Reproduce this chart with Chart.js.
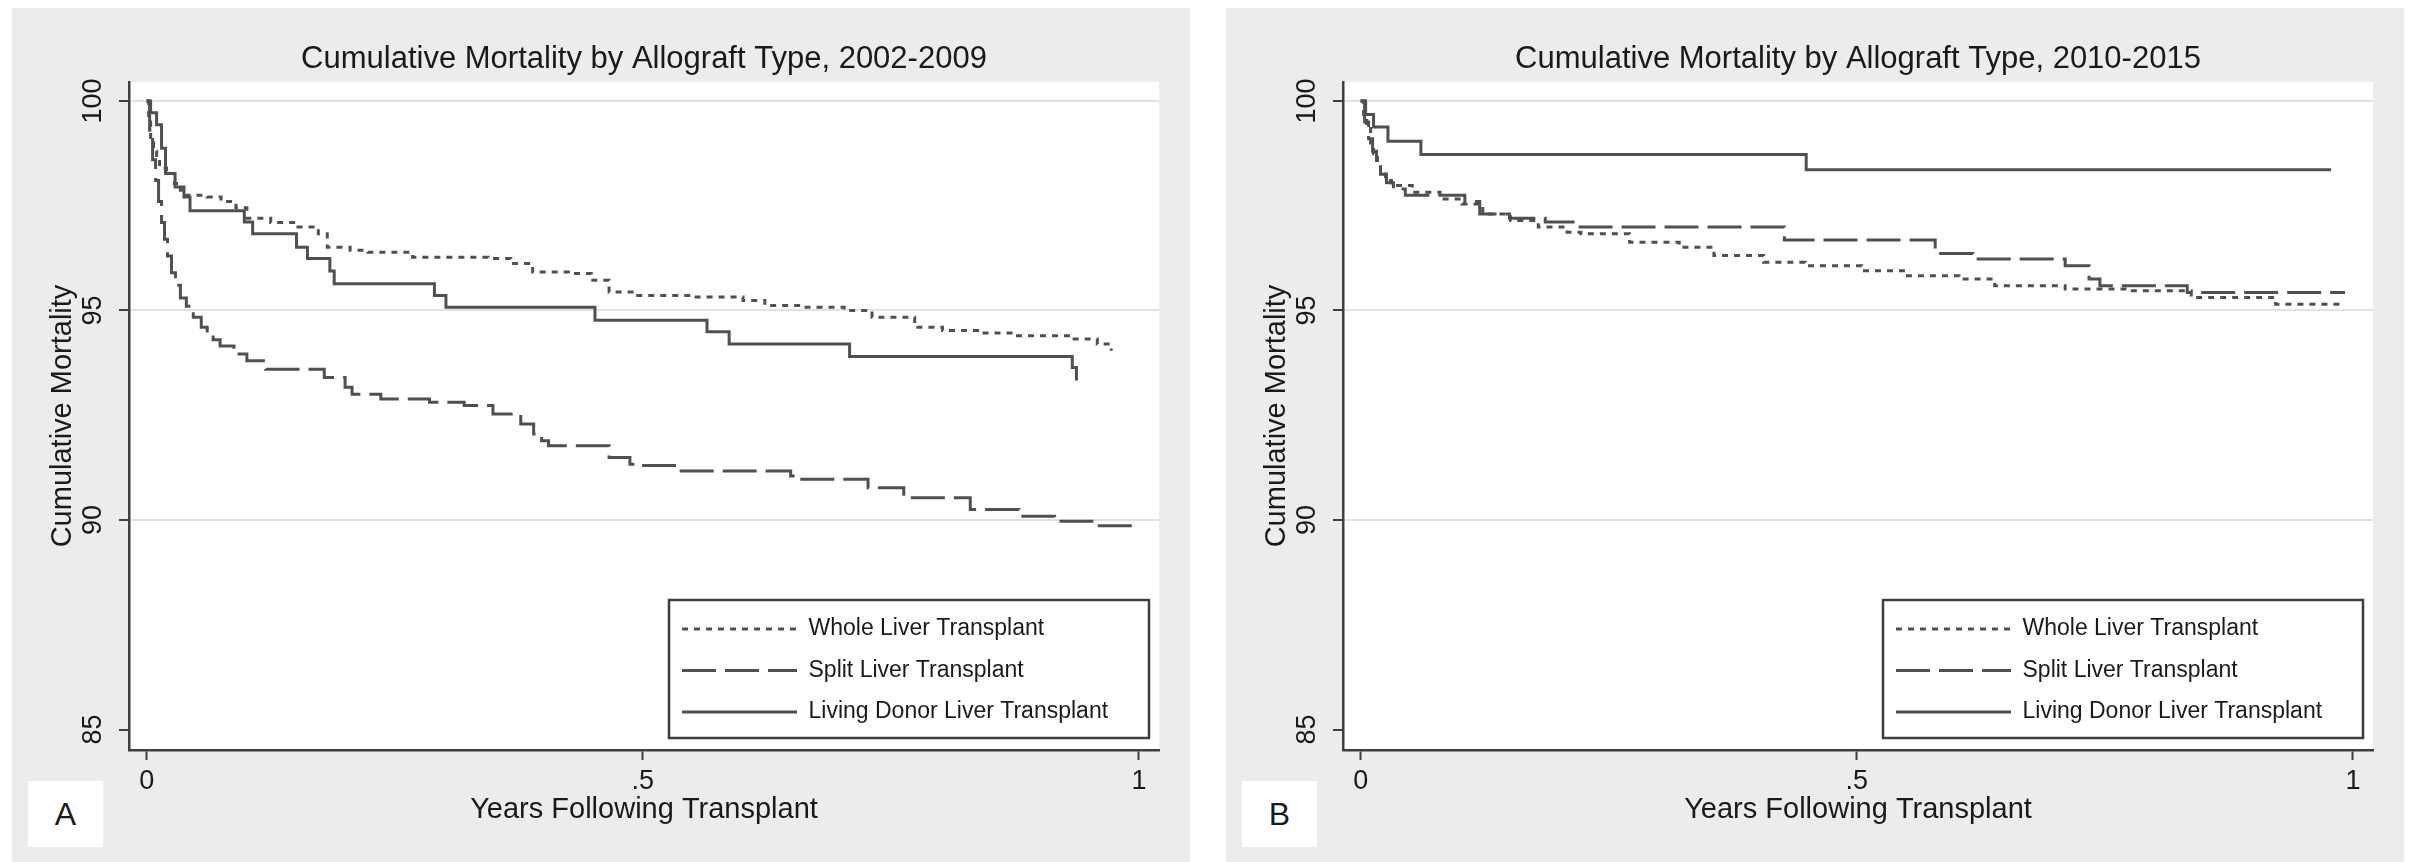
<!DOCTYPE html>
<html>
<head>
<meta charset="utf-8">
<script src="https://cdn.jsdelivr.net/npm/chart.js@4.4.1/dist/chart.umd.min.js"></script>
<style>
  html, body { margin: 0; padding: 0; background: #fff; }
  body { width: 2413px; height: 862px; position: relative; overflow: hidden;
         font-family: 'Liberation Sans', Arial, Helvetica, sans-serif; }
  .panel { position: absolute; top: 8px; width: 1178px; height: 854px; background: #ececec; }
  .panel canvas { position: absolute; left: 0; top: 0; }
  .tag { position: absolute; left: 16px; top: 773px; width: 75px; height: 66px; background: #fff;
         color: #1a1a1a; font-size: 32px; line-height: 66px; text-align: center; }
</style>
</head>
<body>
<div class="panel" style="left:12px"><canvas id="chartA" width="1178" height="854"></canvas><div class="tag">A</div></div>
<div class="panel" style="left:1226px"><canvas id="chartB" width="1178" height="854"></canvas><div class="tag">B</div></div>
<script>
// Axis ticks and labels
const xTickValues = [0, 0.5, 1];
const xTickLabels = ['0', '.5', '1'];
const yTickValues = [85, 90, 95, 100];
const yTickLabels = ['85', '90', '95', '100'];
const seriesNames = ['Whole Liver Transplant', 'Split Liver Transplant', 'Living Donor Liver Transplant'];
const titleA = 'Cumulative Mortality by Allograft Type, 2002-2009';
const titleB = 'Cumulative Mortality by Allograft Type, 2010-2015';
const yAxisTitle = 'Cumulative Mortality';
const xAxisTitle = 'Years Following Transplant';

// 2002-2009 step curves (years, percent)
const wholeA_years = [0, 0.002, 0.004, 0.007, 0.010, 0.013, 0.020, 0.028, 0.034, 0.039, 0.061, 0.075, 0.090, 0.101, 0.125, 0.151, 0.173, 0.182, 0.205, 0.223, 0.268, 0.344, 0.367, 0.389, 0.425, 0.448, 0.466, 0.493, 0.550, 0.601, 0.623, 0.660, 0.703, 0.731, 0.774, 0.802, 0.840, 0.873, 0.929, 0.958, 0.972];
const wholeA_pct   = [100, 99.5, 99.0, 98.8, 98.6, 98.4, 98.27, 98.03, 97.87, 97.75, 97.71, 97.6, 97.45, 97.2, 97.1, 96.99, 96.83, 96.51, 96.44, 96.39, 96.27, 96.24, 96.12, 95.92, 95.88, 95.72, 95.44, 95.36, 95.32, 95.24, 95.12, 95.08, 95.00, 94.84, 94.60, 94.52, 94.46, 94.40, 94.32, 94.20, 94.04];

const splitA_years = [0, 0.003, 0.006, 0.009, 0.012, 0.015, 0.018, 0.021, 0.025, 0.029, 0.034, 0.040, 0.047, 0.055, 0.061, 0.067, 0.074, 0.088, 0.101, 0.120, 0.179, 0.200, 0.207, 0.236, 0.285, 0.320, 0.349, 0.377, 0.390, 0.398, 0.405, 0.466, 0.487, 0.494, 0.536, 0.649, 0.656, 0.727, 0.763, 0.830, 0.879, 0.915, 0.955, 0.994];
const splitA_pct   = [100, 99.3, 98.6, 98.1, 97.6, 97.1, 96.7, 96.3, 95.9, 95.6, 95.3, 95.1, 94.84, 94.6, 94.44, 94.3, 94.15, 93.96, 93.8, 93.6, 93.4, 93.17, 93.0, 92.89, 92.81, 92.73, 92.53, 92.29, 92.05, 91.89, 91.77, 91.49, 91.33, 91.30, 91.17, 91.05, 90.97, 90.77, 90.53, 90.25, 90.09, 89.97, 89.86, 89.78];

const livingA_years = [0, 0.004, 0.010, 0.015, 0.019, 0.0286, 0.0376, 0.0437, 0.0984, 0.1068, 0.151, 0.162, 0.1846, 0.189, 0.290, 0.3016, 0.4518, 0.5647, 0.587, 0.7084, 0.9328, 0.937];
const livingA_pct   = [100, 99.72, 99.43, 98.87, 98.27, 97.95, 97.71, 97.38, 97.11, 96.83, 96.51, 96.24, 95.94, 95.64, 95.36, 95.08, 94.77, 94.49, 94.20, 93.90, 93.64, 93.33];

// 2010-2015 step curves (years, percent)
const wholeB_years = [0, 0.003, 0.006, 0.010, 0.013, 0.017, 0.020, 0.025, 0.031, 0.052, 0.080, 0.102, 0.123, 0.151, 0.179, 0.208, 0.222, 0.271, 0.321, 0.356, 0.406, 0.448, 0.505, 0.547, 0.603, 0.639, 0.710, 0.773, 0.837, 0.922, 0.988];
const wholeB_pct   = [100, 99.6, 99.38, 99.0, 98.74, 98.5, 98.26, 98.1, 97.98, 97.82, 97.66, 97.54, 97.3, 97.15, 96.99, 96.87, 96.83, 96.63, 96.51, 96.31, 96.15, 96.07, 95.95, 95.83, 95.75, 95.59, 95.51, 95.47, 95.31, 95.15, 95.14];

const splitB_years = [0, 0.004, 0.008, 0.012, 0.016, 0.020, 0.026, 0.033, 0.045, 0.105, 0.120, 0.150, 0.186, 0.218, 0.427, 0.579, 0.617, 0.710, 0.734, 0.745, 0.833, 0.992];
const splitB_pct   = [100, 99.5, 99.1, 98.8, 98.5, 98.25, 98.05, 97.9, 97.75, 97.6, 97.3, 97.2, 97.11, 96.99, 96.68, 96.36, 96.23, 96.07, 95.75, 95.59, 95.43, 95.43];

const livingB_years = [0, 0.005, 0.013, 0.0275, 0.0607, 0.449, 0.978];
const livingB_pct   = [100, 99.68, 99.38, 99.04, 98.72, 98.36, 98.36];

const INK = '#1a1a1a';
const CURVE = '#505050';
const AXIS = '#3f3f3f';
const GRID = '#e2e2e2';
const FONT = "'Liberation Sans', Arial, Helvetica, sans-serif";

Chart.defaults.font.family = FONT;
Chart.defaults.color = INK;

function toPoints(xs, ys) { return xs.map((x, i) => ({ x: x, y: ys[i] })); }

// White plot region, legend placement in the lower right of the plot, legend frame
const panelDecor = {
  id: 'panelDecor',
  afterLayout(chart) {
    const ca = chart.chartArea, lg = chart.legend;
    if (!lg) return;
    const left = ca.right - 495.5, top = ca.bottom - 151;
    lg.left = left; lg.top = top;
    lg.width = 490; lg.height = 250;
    lg.right = left + 490; lg.bottom = top + 250;
  },
  beforeDraw(chart) {
    const { ctx, chartArea: ca } = chart;
    ctx.save();
    ctx.fillStyle = '#ffffff';
    ctx.fillRect(ca.left, ca.top, ca.right - ca.left, ca.bottom - ca.top);
    ctx.restore();
  },
  afterDraw(chart) {
    const { ctx, chartArea: ca } = chart;
    ctx.save();
    ctx.strokeStyle = AXIS;
    ctx.lineWidth = 2.5;
    ctx.strokeRect(ca.right - 490, ca.bottom - 150, 480, 138);
    ctx.restore();
  }
};

function makePanel(canvasId, title, whole, split, living) {
  const line = { borderColor: CURVE, backgroundColor: CURVE, borderWidth: 3, stepped: true,
                 pointRadius: 0, fill: false, borderCapStyle: 'butt' };
  return new Chart(document.getElementById(canvasId), {
    type: 'line',
    data: {
      datasets: [
        Object.assign({ label: seriesNames[0], data: whole, borderDash: [6, 6] }, line),
        Object.assign({ label: seriesNames[1], data: split, borderDash: [34, 9] }, line),
        Object.assign({ label: seriesNames[2], data: living, borderDash: [] }, line)
      ]
    },
    options: {
      responsive: false,
      animation: false,
      devicePixelRatio: 1,
      events: [],
      layout: { padding: { left: 0, top: 0, right: 31, bottom: 0 } },
      scales: {
        x: {
          type: 'linear', min: -0.0178, max: 1.0202,
          afterFit: s => { s.height = 112; },
          afterBuildTicks: s => { s.ticks = xTickValues.map(v => ({ value: v })); },
          grid: { drawOnChartArea: false, tickLength: 10, tickColor: AXIS, tickWidth: 2 },
          border: { color: AXIS, width: 2.5 },
          ticks: { autoSkip: false, maxRotation: 0, minRotation: 0, padding: 5.8, color: INK,
                   font: { size: 27 }, callback: v => xTickLabels[xTickValues.indexOf(v)] },
          title: { display: true, text: xAxisTitle, color: INK, font: { size: 29 },
                   padding: { top: 0, bottom: 34.6 } }
        },
        y: {
          type: 'linear', min: 84.511, max: 100.453,
          afterFit: s => { s.width = 117; },
          afterBuildTicks: s => { s.ticks = yTickValues.map(v => ({ value: v })); },
          grid: {
            color: c => (c.tick && c.tick.value === 85) ? 'rgba(0,0,0,0)' : GRID,
            lineWidth: 2, tickLength: 10, tickColor: AXIS, tickWidth: 2
          },
          border: { color: AXIS, width: 2.5 },
          ticks: { autoSkip: false, minRotation: 90, maxRotation: 90, crossAlign: 'center',
                   padding: 3.2, color: INK, font: { size: 27 },
                   callback: v => yTickLabels[yTickValues.indexOf(v)] },
          title: { display: true, text: yAxisTitle, color: INK, font: { size: 29 },
                   padding: { top: 33.6, bottom: 0 } }
        }
      },
      plugins: {
        tooltip: { enabled: false },
        title: { display: true, text: title, color: INK, fullSize: false,
                 font: { size: 31, weight: 'normal' }, padding: { top: 32.4, bottom: 4.4 } },
        legend: {
          position: 'chartArea', align: 'start',
          labels: {
            usePointStyle: true, pointStyleWidth: 115, boxHeight: 23, padding: 18.5,
            color: INK, font: { size: 23 },
            generateLabels: chart => chart.data.datasets.map((ds, i) => ({
              text: ds.label, fillStyle: ds.borderColor, strokeStyle: ds.borderColor,
              lineWidth: ds.borderWidth, lineDash: ds.borderDash || [], pointStyle: 'line',
              fontColor: INK, hidden: false, datasetIndex: i
            }))
          }
        }
      }
    },
    plugins: [panelDecor]
  });
}

makePanel('chartA', titleA,
  toPoints(wholeA_years, wholeA_pct),
  toPoints(splitA_years, splitA_pct),
  toPoints(livingA_years, livingA_pct));

makePanel('chartB', titleB,
  toPoints(wholeB_years, wholeB_pct),
  toPoints(splitB_years, splitB_pct),
  toPoints(livingB_years, livingB_pct));
</script>
</body>
</html>
